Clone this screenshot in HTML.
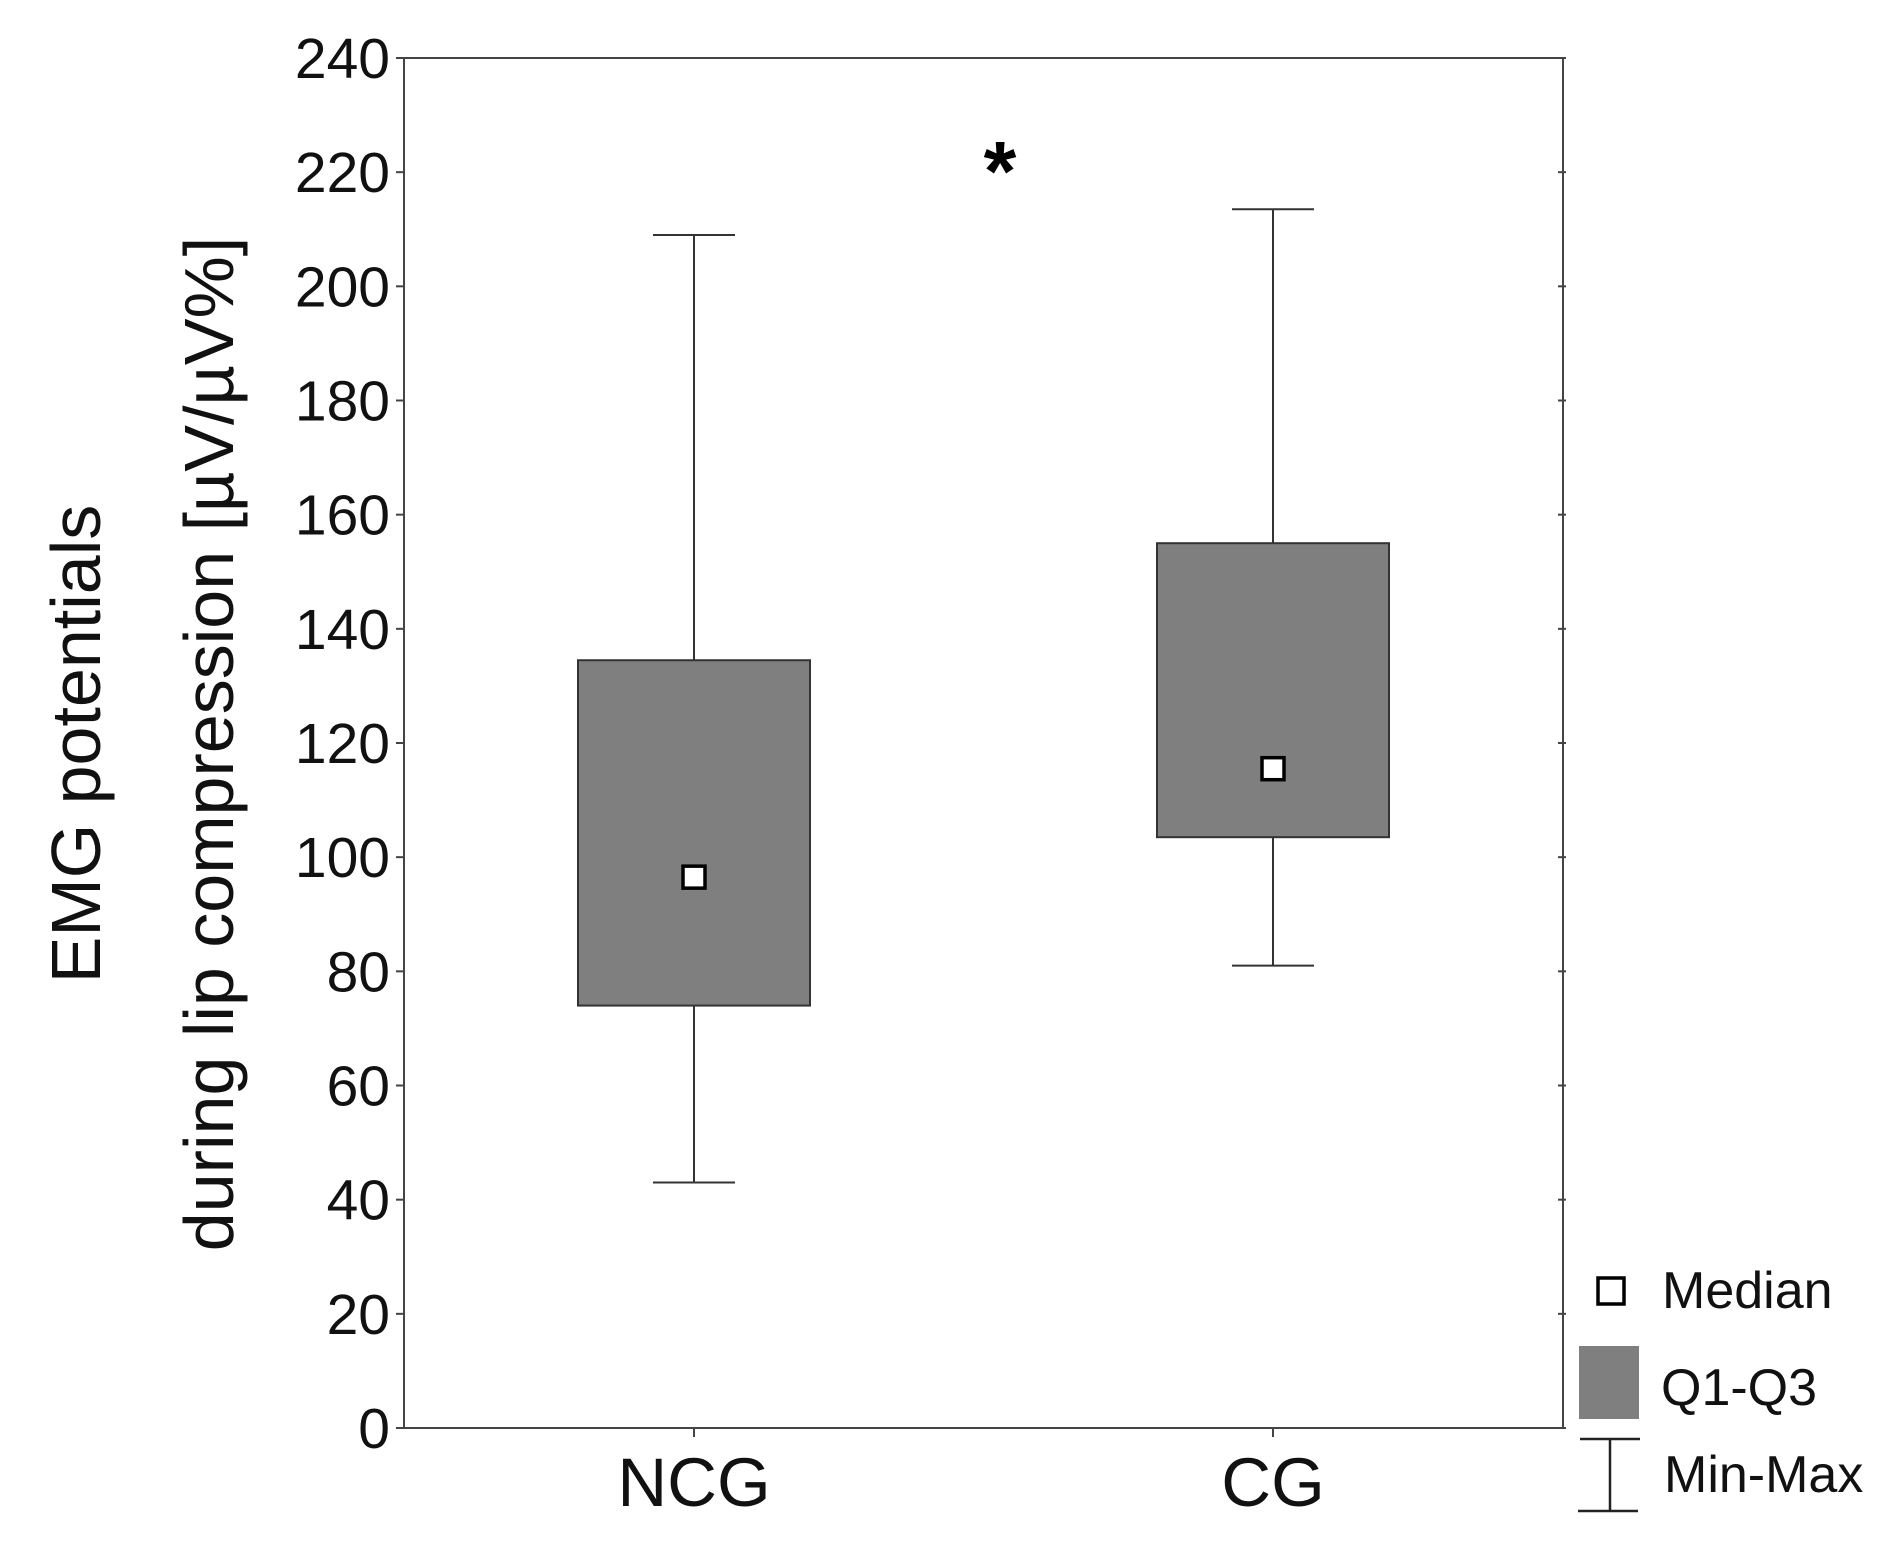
<!DOCTYPE html>
<html><head><meta charset="utf-8"><style>
html,body{margin:0;padding:0;background:#fff;}
svg{display:block;font-family:"Liberation Sans",Arial,sans-serif;}
</style></head><body>
<svg id="chart" width="1893" height="1544" viewBox="0 0 1893 1544"></svg>
<script>
const categories = ["NCG", "CG"];
const maxVals = [209, 213.5];
const q3Vals = [134.5, 155];
const medianVals = [96.5, 115.5];
const q1Vals = [74, 103.5];
const minVals = [43, 81];
const yTicks = [0, 20, 40, 60, 80, 100, 120, 140, 160, 180, 200, 220, 240];

const NS = "http://www.w3.org/2000/svg";
const svg = document.getElementById("chart");
const L = 404, R = 1563, T = 58, B = 1428;
const yMin = 0, yMax = 240;
function y(v){ return B - (v - yMin) / (yMax - yMin) * (B - T); }
const catX = [694, 1273];
function x(i){ return catX[i]; }
function el(tag, attrs, parent){
  const e = document.createElementNS(NS, tag);
  for (const k in attrs) e.setAttribute(k, attrs[k]);
  (parent || svg).appendChild(e);
  return e;
}

const frame = el("rect", {x:L, y:T, width:R-L, height:B-T, fill:"none", stroke:"#444", "stroke-width":2});



yTicks.forEach(v => {
  const yy = y(v);
  const t1 = el("line", {x1:L-8, x2:L, y1:yy, y2:yy, stroke:"#444", "stroke-width":2});
  
  
  const t2 = el("line", {x1:R-5, x2:R+3, y1:yy, y2:yy, stroke:"#444", "stroke-width":2});
  
  
  const tx = el("text", {x:L-14, y:yy+20, "text-anchor":"end", "font-size":57, fill:"#111"});
  tx.textContent = v;
  
  
});

categories.forEach((c, i) => {
  const cx = x(i), hw = 116, cap = 41;
  const g = el("g", {});
  
  
  const tick = el("line", {x1:cx, x2:cx, y1:B, y2:B+9, stroke:"#444", "stroke-width":2}, g);
  
  
  const w = el("line", {x1:cx, x2:cx, y1:y(maxVals[i]), y2:y(minVals[i]), stroke:"#333", "stroke-width":2}, g);
  
  
  const c1 = el("line", {x1:cx-cap, x2:cx+cap, y1:y(maxVals[i]), y2:y(maxVals[i]), stroke:"#333", "stroke-width":2}, g);
  
  
  const c2 = el("line", {x1:cx-cap, x2:cx+cap, y1:y(minVals[i]), y2:y(minVals[i]), stroke:"#333", "stroke-width":2}, g);
  
  
  const bx = el("rect", {x:cx-hw, y:y(q3Vals[i]), width:hw*2, height:y(q1Vals[i])-y(q3Vals[i]), fill:"#7f7f7f", stroke:"#333", "stroke-width":2}, g);
  
  
  const m = el("rect", {x:cx-11, y:y(medianVals[i])-11, width:22, height:22, fill:"#fff", stroke:"#000", "stroke-width":3.5}, g);
  
  
  const lb = el("text", {x:cx, y:1506, "text-anchor":"middle", "font-size":69, fill:"#111"}, g);
  lb.textContent = c;
  
  
});

const ast = el("text", {x:1000, y:200, "text-anchor":"middle", "font-size":84, "font-weight":"bold", fill:"#000"});
ast.textContent = "*";



const yt = el("text", {transform:"translate(100,744) rotate(-90)", "text-anchor":"middle", "font-size":70, fill:"#111"});


const s1 = el("tspan", {x:0, y:0}, yt); s1.textContent = "EMG potentials";
const s2 = el("tspan", {x:0, y:133}, yt); s2.textContent = "during lip compression [µV/µV%]";

const lg = el("g", {});


const lm = el("rect", {x:1598, y:1278, width:26, height:26, fill:"#fff", stroke:"#000", "stroke-width":3.5}, lg);


const lt1 = el("text", {x:1662, y:1308, "font-size":52, fill:"#111"}, lg); lt1.textContent = "Median";


const lq = el("rect", {x:1579, y:1346, width:60, height:73, fill:"#7f7f7f"}, lg);


const lt2 = el("text", {x:1661, y:1405, "font-size":52, fill:"#111"}, lg); lt2.textContent = "Q1-Q3";


const mm1 = el("line", {x1:1580, x2:1640, y1:1439, y2:1439, stroke:"#222", "stroke-width":2.5}, lg);


const mm2 = el("line", {x1:1578, x2:1638, y1:1511, y2:1511, stroke:"#222", "stroke-width":2.5}, lg);


const mm3 = el("line", {x1:1610, x2:1610, y1:1439, y2:1511, stroke:"#222", "stroke-width":2.5}, lg);


const lt3 = el("text", {x:1664, y:1492, "font-size":52, fill:"#111"}, lg); lt3.textContent = "Min-Max";


</script>
</body></html>
